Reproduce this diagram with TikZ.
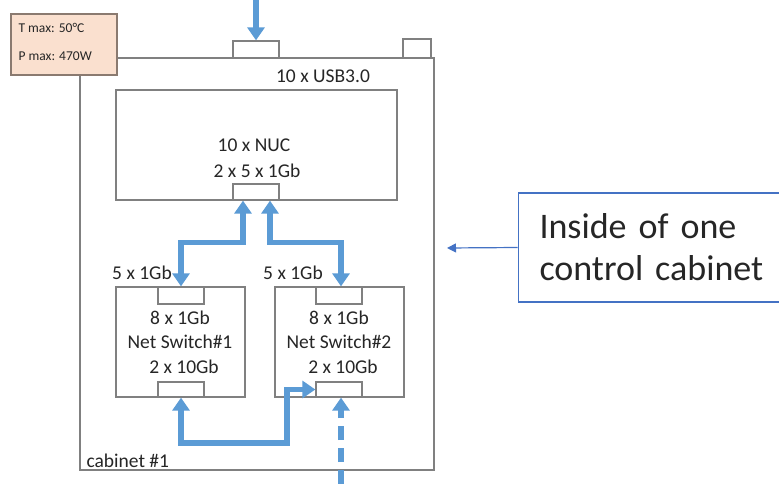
\documentclass[tikz,border=0pt]{standalone}
\usepackage{fontspec}
\setmainfont{Carlito}
\usetikzlibrary{positioning,arrows.meta}
\definecolor{linkblue}{HTML}{5B9BD5}
\definecolor{noteblue}{HTML}{4472C4}
\definecolor{edgegray}{HTML}{808080}
\definecolor{peach}{HTML}{FAE0CF}
\definecolor{peachedge}{HTML}{8A7A70}
\tikzset{bigtip/.tip={Triangle[width=17pt,length=13pt]}}

\begin{document}
\begin{tikzpicture}[
  x=1pt, y=-1pt,
  every node/.style={font=\fontsize{19.5}{24}\selectfont, text=black!85},
  box/.style={draw=edgegray, line width=1.3pt, fill=white, inner sep=0pt},
  port/.style={box, minimum width=46pt},
  link/.style={draw=linkblue, line width=5.5pt},
  small/.style={font=\fontsize{13.5}{16}\selectfont, anchor=west}
]
  \useasboundingbox (0,0) rectangle (779,484);

  % cabinet and its top ports
  \node[box, minimum width=354pt, minimum height=412pt] (cabinet) at (257,264) {};
  \node[port, minimum height=17pt] (usbport) at (256,49.5) {};
  \node[box, minimum width=28pt, minimum height=19pt] (spare) at (417,48.5) {};
  \node (usb) at (323,76) {10 x USB3.0};
  \node[anchor=west] (cabname) at (83,461) {cabinet \#1};

  % limits label
  \node[box, draw=peachedge, fill=peach, minimum width=106pt, minimum height=61pt] (limits) at (64,44.5) {};
  \node[small] (tmax) at (15,28) {T max: 50°C};
  \node[small] (pmax) at (15,56) {P max: 470W};

  % NUC block
  \node[box, minimum width=281pt, minimum height=110pt] (nuc) at (256.5,145) {};
  \node (nuctext) at (254,145) {10 x NUC};
  \node (nucnet)  at (257,171) {2 x 5 x 1Gb};
  \node[port, minimum height=16pt] (nucport) at (256,192) {};

  % switches
  \node[box, minimum width=129pt, minimum height=110pt] (sw1) at (180.5,342) {};
  \node[box, minimum width=129pt, minimum height=110pt] (sw2) at (339.5,342) {};
  \node[port, minimum height=17pt] (sw1top) at (181,295.5) {};
  \node[port, minimum height=17pt] (sw2top) at (339,295.5) {};
  \node[port, minimum height=15pt] (sw1bot) at (181,389.5) {};
  \node[port, minimum height=15pt] (sw2bot) at (339,389.5) {};
  \foreach \s/\x in {1/180, 2/339} {
    \node (in\s)   at (\x,318) {8 x 1Gb};
    \node (name\s) at (\x,342) {Net Switch\#\s};
    \node (up\s)   at (\x+4,367) {2 x 10Gb};
  }
  \node (lab1) at (142,273) {5 x 1Gb};
  \node (lab2) at (293,273) {5 x 1Gb};

  % links
  \coordinate (usbfeed) at (256,0);
  \coordinate (bend) at (287,443);
  \coordinate (feed) at (341,484);
  \draw[link, -bigtip] (usbfeed) -- (usbport.north);
  \draw[link, bigtip-bigtip] ([xshift=-13pt]nucport.south) -- ++(0,42) -| (sw1top.north);
  \draw[link, bigtip-bigtip] ([xshift=14pt]nucport.south) -- ++(0,42) -| ([xshift=2pt]sw2top.north);
  \draw[link, bigtip-bigtip] (sw1bot.south) |- (bend) |- (sw2bot.west);
  \draw[link, dash pattern=on 14pt off 8pt, -bigtip] (feed) -- (feed |- sw2bot.south);

  % callout
  \node[draw=noteblue, line width=1.6pt, minimum height=109pt, inner xsep=21pt, inner ysep=1pt,
        text width=245pt, align=left, font=\fontsize{36}{42}\selectfont] (note) at (662,247.5)
        {Inside of one\\control cabinet};
  \coordinate (pointer) at (447,248);
  \draw[noteblue, line width=1.2pt, -{Triangle[width=9pt,length=9pt]}] (note.west) -- (pointer);
\end{tikzpicture}
\end{document}
